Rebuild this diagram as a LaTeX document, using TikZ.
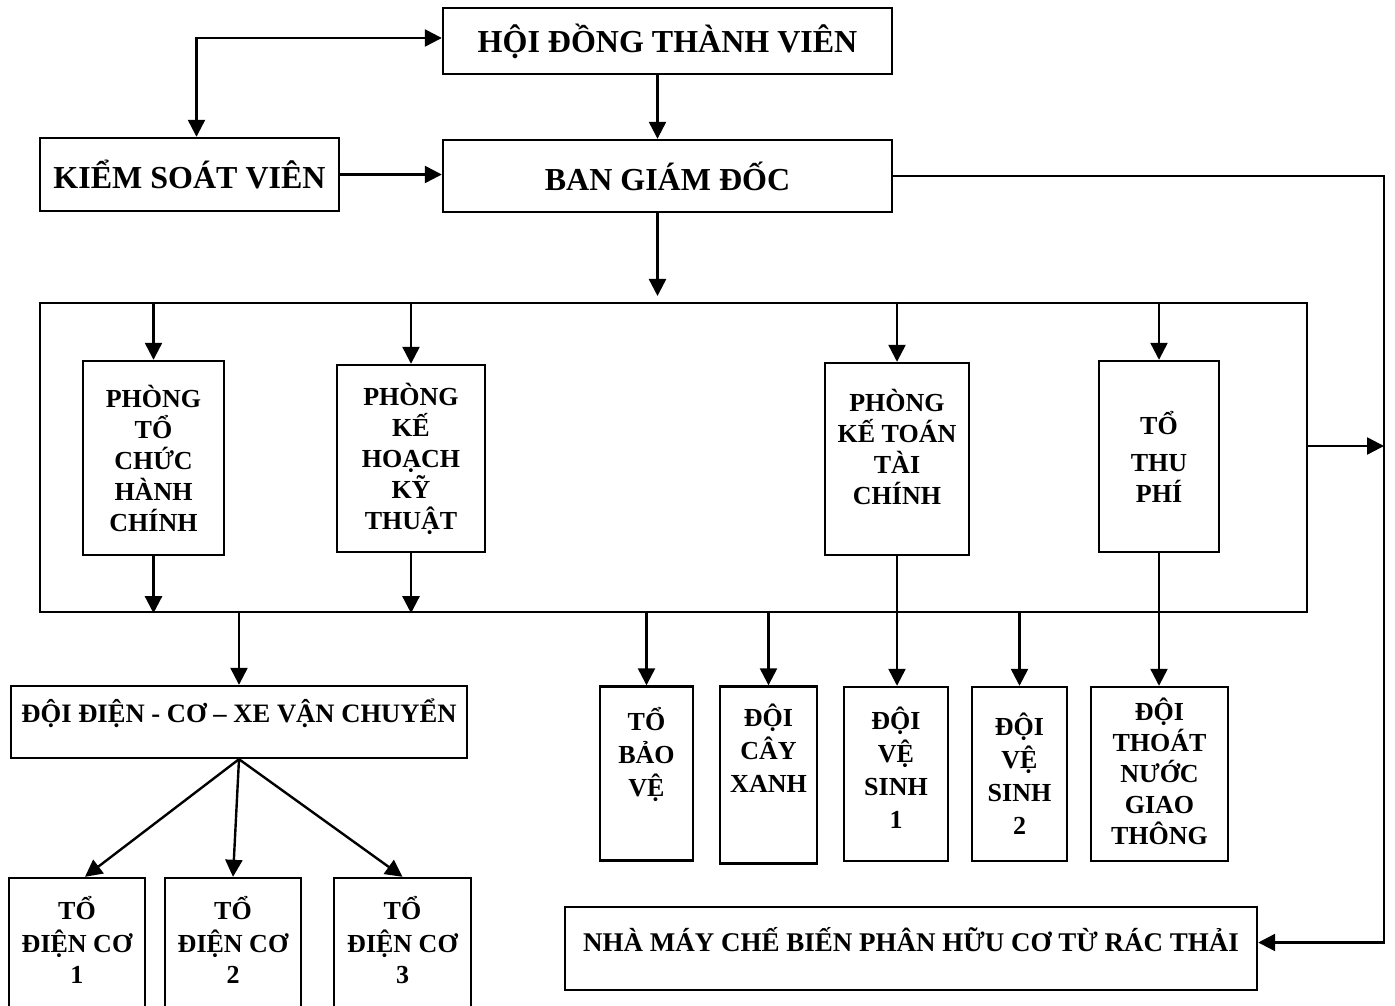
\documentclass[tikz,border=0pt]{standalone}
\usepackage{fontspec}
\setmainfont{Liberation Serif}
\usetikzlibrary{calc, arrows.meta}

\begin{document}
\begin{tikzpicture}[x=0.5pt, y=-0.5pt, line width=1.2pt,
	box/.style={draw, align=center, inner sep=1pt, font=\fontsize{13}{15.5}\selectfont\bfseries},
	lowbox/.style={box, font=\fontsize{13}{16.5}\selectfont\bfseries},
	headbox/.style={box, font=\fontsize{16}{19}\selectfont\bfseries},
	arr/.style={-{Triangle[length=8.5pt, width=8.5pt]}},
	biarr/.style={{Triangle[length=8.5pt, width=8.5pt]}-{Triangle[length=8.5pt, width=8.5pt]}}]
	\useasboundingbox (0,0) rectangle (1395,1005);
	% top level
	\node[headbox, minimum width=224.5pt, minimum height=33pt] (hdtv) at (667.5,41) {HỘI ĐỒNG THÀNH VIÊN};
	\node[headbox, minimum width=224.5pt, minimum height=36pt] (bgd) at (667.5,176) {BAN GIÁM ĐỐC};
	\node[headbox, minimum width=149.5pt, minimum height=36.5pt] (ksv) at (189.5,174.5) {KIỂM SOÁT VIÊN};
	% departments
	\node[draw, inner sep=0pt, minimum width=633.5pt, minimum height=154.5pt] (frame) at (673.5,457.5) {};
	\node[box, minimum width=70.5pt, minimum height=97pt] (ptchc) at (153.5,458) {PHÒNG\\TỔ\\CHỨC\\HÀNH\\CHÍNH};
	\node[box, minimum width=74pt, minimum height=93.5pt] (pkhkt) at (411,458.5) {PHÒNG\\KẾ\\HOẠCH\\KỸ\\THUẬT};
	\node[box, minimum width=72pt, minimum height=96pt] (pkttc) at (897,459) {PHÒNG\\KẾ TOÁN\\TÀI\\CHÍNH\\[-3.5pt]~};
	\node[box, minimum width=60pt, minimum height=95.5pt] (ttp) at (1159,456.5) {TỔ\\[3pt]THU\\PHÍ};
	% teams
	\node[box, font=\fontsize{13.3}{15.5}\selectfont\bfseries, minimum width=228pt, minimum height=36pt] (ddcxvc) at (239,722) {ĐỘI ĐIỆN - CƠ – XE VẬN CHUYỂN\\[-4pt]~};
	\node[lowbox, minimum width=46.5pt, minimum height=87pt] (tbv) at (646.5,773.5) {TỔ\\BẢO\\VỆ\\[5pt]~};
	\node[lowbox, minimum width=48.5pt, minimum height=88.5pt] (dcx) at (768.5,775) {ĐỘI\\CÂY\\XANH\\[10pt]~};
	\node[lowbox, minimum width=52pt, minimum height=87pt] (dvs1) at (896,774) {ĐỘI\\VỆ\\SINH\\1\\[-10pt]~};
	\node[lowbox, minimum width=47.5pt, minimum height=87pt] (dvs2) at (1019.5,774) {ĐỘI\\VỆ\\SINH\\2};
	\node[box, minimum width=68.5pt, minimum height=87pt] (dtngt) at (1159.5,774) {ĐỘI\\THOÁT\\NƯỚC\\GIAO\\THÔNG\\[-13pt]~};
	\node[box, minimum width=68pt, minimum height=68.5pt] (dc1) at (77,946.5) {TỔ\\[1pt]ĐIỆN CƠ\\1\\[-9pt]~};
	\node[box, minimum width=68pt, minimum height=68.5pt] (dc2) at (233,946.5) {TỔ\\[1pt]ĐIỆN CƠ\\2\\[-9pt]~};
	\node[box, minimum width=68.5pt, minimum height=68.5pt] (dc3) at (402.5,946.5) {TỔ\\[1pt]ĐIỆN CƠ\\3\\[-9pt]~};
	\node[box, font=\fontsize{13.5}{15.5}\selectfont\bfseries, minimum width=346pt, minimum height=41.5pt] (nmcb) at (911,948.5) {NHÀ MÁY CHẾ BIẾN PHÂN HỮU CƠ TỪ RÁC THẢI\\[-6pt]~};
	\coordinate (split) at (657.5,296);
	\coordinate (rail) at (1384,176);

	\draw[biarr] ([xshift=3.5pt]ksv.north) |- ([yshift=1.5pt]hdtv.west);
	\draw[arr] (ksv.east) -- (ksv.east -| bgd.west);
	\draw[arr] ([xshift=-5pt]hdtv.south) -- ([xshift=-5pt]bgd.north);
	\draw[arr] ([xshift=-5pt]bgd.south) -- (split);
	\draw[arr] (bgd.east) -- (rail) |- ([yshift=3pt]nmcb.east);
	\draw[arr] ([yshift=5.75pt]frame.east) -- ([yshift=5.75pt]frame.east -| rail);
	\foreach \b in {ptchc, pkhkt, pkttc, ttp}
		\draw[arr] (\b.north |- frame.north) -- (\b.north);
	\foreach \b in {ptchc, pkhkt}
		\draw[arr] (\b.south) -- (\b.south |- frame.south);
	\draw[arr] (pkttc.south) -- (pkttc.south |- dvs1.north);
	\draw[arr] (ttp.south) -- (ttp.south |- dtngt.north);
	\foreach \b in {ddcxvc, tbv, dcx, dvs2}
		\draw[arr] (\b.north |- frame.south) -- (\b.north);
	\draw[arr] (ddcxvc.south) -- ([xshift=4pt]dc1.north);
	\draw[arr] (ddcxvc.south) -- (dc2.north);
	\draw[arr] (ddcxvc.south) -- (dc3.north);
\end{tikzpicture}
\end{document}
